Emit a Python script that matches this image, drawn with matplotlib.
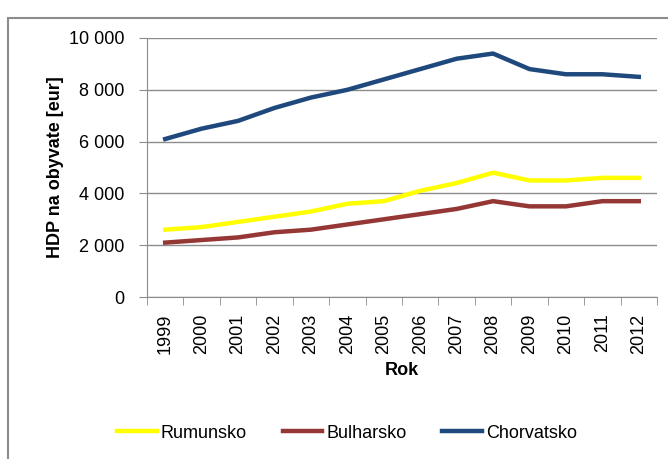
import numpy as np
import matplotlib.pyplot as plt
from matplotlib.patches import Rectangle
from matplotlib.ticker import FuncFormatter

plt.rcParams['font.family'] = ['Liberation Sans Narrow', 'Liberation Sans', 'DejaVu Sans']

roky = ['1999', '2000', '2001', '2002', '2003', '2004', '2005',
        '2006', '2007', '2008', '2009', '2010', '2011', '2012']
rumunsko = [2600, 2700, 2900, 3100, 3300, 3600, 3700, 4100, 4400, 4800, 4500, 4500, 4600, 4600]
bulharsko = [2100, 2200, 2300, 2500, 2600, 2800, 3000, 3200, 3400, 3700, 3500, 3500, 3700, 3700]
chorvatsko = [6100, 6500, 6800, 7300, 7700, 8000, 8400, 8800, 9200, 9400, 8800, 8600, 8600, 8500]

fig = plt.figure(figsize=(6.68, 4.59), dpi=100)
ax = fig.add_axes([147/668, 1-297/459, 510/668, 259/459])

# ramecek grafu
fig.patches.append(Rectangle((8/668, -0.2), 1.0, 1-18/459+0.2, transform=fig.transFigure,
                             fill=False, edgecolor='#8c8c8c', lw=1.5))

x = np.arange(len(roky))
ax.plot(x, rumunsko, color='#FFFF00', lw=3.2, label='Rumunsko')
ax.plot(x, bulharsko, color='#953735', lw=3.2, label='Bulharsko')
ax.plot(x, chorvatsko, color='#1F497D', lw=3.2, label='Chorvatsko')

ax.set_xlim(-0.5, len(roky)-0.5)
ax.set_ylim(0, 10000)
ax.set_yticks(range(0, 10001, 2000))
ax.yaxis.set_major_formatter(FuncFormatter(lambda v, p: f'{int(v):,}'.replace(',', ' ')))
ax.grid(axis='y', color='#8c8c8c', lw=1)
ax.set_axisbelow(True)

ax.set_xticks(x)
ax.set_xticklabels(roky, rotation=90, fontsize=13)
ax.set_xticks(np.arange(-0.5, len(roky), 1), minor=True)
ax.tick_params(axis='x', which='major', length=0, pad=12)
ax.tick_params(axis='x', which='minor', length=6, color='#8c8c8c')
ax.tick_params(axis='y', length=6, color='#8c8c8c', labelsize=13, pad=10)

for s in ['top', 'right']:
    ax.spines[s].set_visible(False)
ax.spines['left'].set_color('#8c8c8c')
ax.spines['bottom'].set_color('#8c8c8c')

ax.set_ylabel('HDP na obyvate [eur]', fontsize=13, fontweight='bold', labelpad=4)
ax.set_xlabel('Rok', fontsize=13, fontweight='bold', labelpad=6)

fig.legend(loc='center', bbox_to_anchor=(347/668, 1-433/459), ncol=3, frameon=False,
           fontsize=13, handlelength=2.2, handletextpad=0.2, columnspacing=2.0)

fig.savefig('out.png', dpi=100)
